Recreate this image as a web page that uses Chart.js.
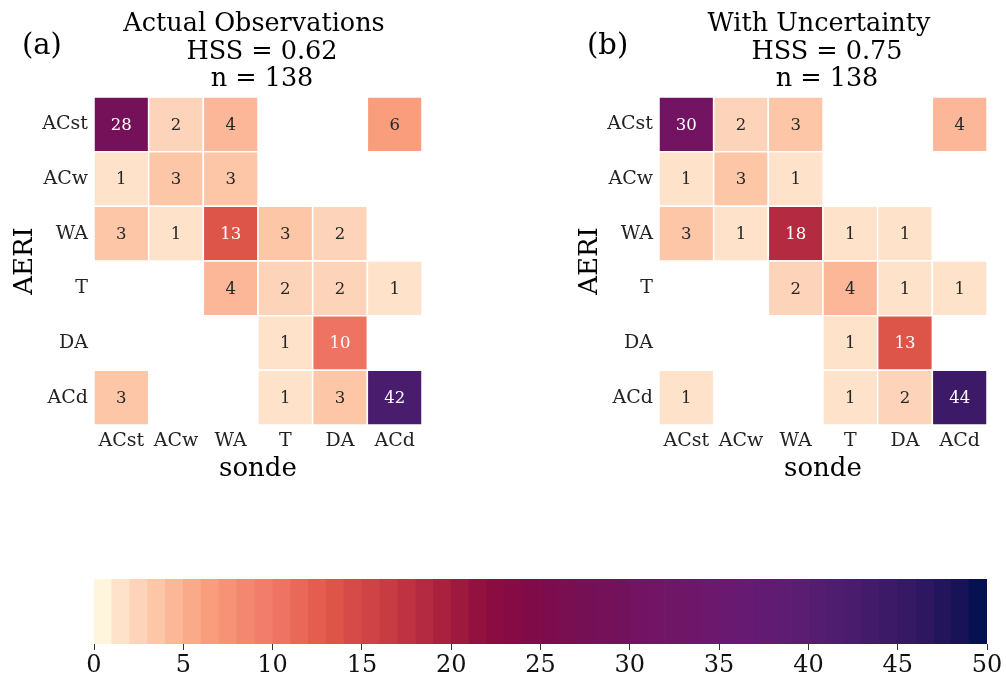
<!DOCTYPE html>
<html>
<head>
<meta charset="utf-8">
<script src="https://cdn.jsdelivr.net/npm/chart.js@4.4.1/dist/chart.umd.min.js"></script>
<style>
  html, body { margin: 0; padding: 0; background: #fff; }
  body { width: 1006px; height: 681px; position: relative; overflow: hidden; }
  .panel { position: absolute; }
</style>
</head>
<body>
<div class="panel" style="left:0;top:0;width:441px;height:500px"><canvas id="chartA"></canvas></div>
<div class="panel" style="left:565px;top:0;width:441px;height:500px"><canvas id="chartB"></canvas></div>
<div class="panel" style="left:0;top:540px;width:1006px;height:141px"><canvas id="chartBar"></canvas></div>
<script>
// Clases de régimen (mismas para AERI y sonde)
const classes = ["ACst", "ACw", "WA", "T", "DA", "ACd"];

// Filas = AERI, columnas = sonde; null = sin casos (celda vacía)
const actualCounts = [
    [28, 2, 4, null, null, 6],
    [1, 3, 3, null, null, null],
    [3, 1, 13, 3, 2, null],
    [null, null, 4, 2, 2, 1],
    [null, null, null, 1, 10, null],
    [3, null, null, 1, 3, 42]
];
const uncertaintyCounts = [
    [30, 2, 3, null, null, 4],
    [1, 3, 1, null, null, null],
    [3, 1, 18, 1, 1, null],
    [null, null, 2, 4, 1, 1],
    [null, null, null, 1, 13, null],
    [1, null, null, 1, 2, 44]
];

const titlesA = ["Actual Observations", "HSS = 0.62", "n = 138"];
const titlesB = ["With Uncertainty", "HSS = 0.75", "n = 138"];
const colorbarTicks = [0, 5, 10, 15, 20, 25, 30, 35, 40, 45, 50];

// Paleta discreta de 50 niveles (0..50)
const palette = [
    "#FFF4DC", "#FEE3CA", "#FDD4B9", "#FCC6A7", "#FBB797", "#FAAA88", "#F99D7D", "#F79277", "#F48770", "#F17D6A",
    "#EE7363", "#EA6858", "#E45D4E", "#DD5449", "#D64B47", "#CF4346", "#C73B43", "#BE3241", "#B42A40", "#A9213F",
    "#9E193E", "#93113E", "#8B0C40", "#860B45", "#800B49", "#7C0C4D", "#790E51", "#761055", "#741159", "#72125D",
    "#721461", "#711564", "#701667", "#6E176A", "#6C186D", "#69196F", "#661A71", "#621B72", "#5E1C72", "#5A1D71",
    "#551D70", "#4F1D6F", "#491C6D", "#431B6B", "#3C1A68", "#351964", "#2D1760", "#23155B", "#171356", "#051150"
];

const FONT = '"DejaVu Serif"';
Chart.defaults.font.family = FONT;

function cellColor(v) {
    return palette[Math.max(0, Math.min(palette.length - 1, Math.floor(v)))];
}

// Texto claro u oscuro según la luminancia de la celda (como seaborn)
function textColorFor(hex) {
    const lin = c => {
        c = c / 255;
        return c <= 0.03928 ? c / 12.92 : Math.pow((c + 0.055) / 1.055, 2.4);
    };
    const r = parseInt(hex.slice(1, 3), 16), g = parseInt(hex.slice(3, 5), 16), b = parseInt(hex.slice(5, 7), 16);
    const lum = 0.2126 * lin(r) + 0.7152 * lin(g) + 0.0722 * lin(b);
    return lum > 0.408 ? "#262626" : "#ffffff";
}

function cellPoints(counts) {
    const pts = [];
    counts.forEach((row, r) => row.forEach((v, c) => {
        if (v !== null) pts.push({ x: classes[c], y: classes[r], v: v });
    }));
    return pts;
}

// Medio ancho de celda a partir de la escala de categorías
function cellHalf(chart) {
    const x = chart.scales.x;
    if (!x) return 0;
    return Math.abs(x.getPixelForValue(1) - x.getPixelForValue(0)) / 2;
}

const cellLabels = {
    id: "cellLabels",
    afterDatasetsDraw(chart) {
        const ctx = chart.ctx;
        const meta = chart.getDatasetMeta(0);
        const data = chart.data.datasets[0].data;
        ctx.save();
        ctx.font = "16.5px " + FONT;
        ctx.textAlign = "center";
        ctx.textBaseline = "middle";
        meta.data.forEach((pt, i) => {
            const v = data[i].v;
            ctx.fillStyle = textColorFor(cellColor(v));
            ctx.fillText(String(v), pt.x, pt.y + 1);
        });
        ctx.restore();
    }
};

const panelText = {
    id: "panelText",
    afterDraw(chart, args, opts) {
        const { left, right, top, bottom } = chart.chartArea;
        const cx = (left + right) / 2, cy = (top + bottom) / 2;
        const ctx = chart.ctx;
        ctx.save();
        ctx.fillStyle = "#000";
        ctx.textBaseline = "alphabetic";

        // título de tres líneas
        ctx.font = "25.5px " + FONT;
        ctx.textAlign = "center";
        const shifts = [-4, 4, 4];
        opts.lines.forEach((line, i) => ctx.fillText(line, cx + shifts[i], 31 + i * 27.5));

        // letra del panel
        ctx.font = "29px " + FONT;
        ctx.textAlign = "left";
        ctx.fillText(opts.letter, 22, 54);

        // etiquetas de ejes
        ctx.font = "26px " + FONT;
        ctx.textAlign = "center";
        ctx.fillText("sonde", cx, 476);
        ctx.translate(32, cy);
        ctx.rotate(-Math.PI / 2);
        ctx.fillText("AERI", 0, 0);
        ctx.restore();
    }
};

function heatmapConfig(counts, lines, letter) {
    return {
        type: "scatter",
        data: {
            datasets: [{
                data: cellPoints(counts),
                pointStyle: "rect",
                pointRadius: ctx => cellHalf(ctx.chart) * Math.SQRT2,
                pointHoverRadius: ctx => cellHalf(ctx.chart) * Math.SQRT2,
                pointBackgroundColor: ctx => ctx.raw ? cellColor(ctx.raw.v) : "transparent",
                pointBorderColor: "#ffffff",
                pointBorderWidth: 1.5,
                clip: false
            }]
        },
        options: {
            responsive: true,
            maintainAspectRatio: false,
            animation: false,
            events: [],
            layout: { padding: { top: 97, right: 19, left: 0, bottom: 0 } },
            plugins: {
                legend: { display: false },
                tooltip: { enabled: false },
                panelText: { lines: lines, letter: letter }
            },
            scales: {
                x: {
                    type: "category",
                    labels: classes,
                    offset: true,
                    grid: { display: false, drawTicks: false },
                    border: { display: false },
                    ticks: { font: { size: 19 }, color: "#222", padding: 5, maxRotation: 0, autoSkip: false },
                    afterFit: s => { s.height = 75; }
                },
                y: {
                    type: "category",
                    labels: classes,
                    offset: true,
                    grid: { display: false, drawTicks: false },
                    border: { display: false },
                    ticks: { font: { size: 19 }, color: "#222", padding: 6, autoSkip: false },
                    afterFit: s => { s.width = 94; }
                }
            }
        },
        plugins: [cellLabels, panelText]
    };
}

new Chart(document.getElementById("chartA"), heatmapConfig(actualCounts, titlesA, "(a)"));
new Chart(document.getElementById("chartB"), heatmapConfig(uncertaintyCounts, titlesB, "(b)"));

// --- Barra de colores ---
new Chart(document.getElementById("chartBar"), {
    type: "bar",
    data: {
        datasets: [{
            data: palette.map((c, i) => ({ x: i + 0.5, y: 1 })),
            backgroundColor: palette,
            categoryPercentage: 1,
            barPercentage: 1,
            borderWidth: 0
        }]
    },
    options: {
        responsive: true,
        maintainAspectRatio: false,
        animation: false,
        events: [],
        layout: { padding: { top: 39, left: 94, right: 19, bottom: 0 } },
        plugins: { legend: { display: false }, tooltip: { enabled: false } },
        scales: {
            x: {
                type: "linear",
                min: 0,
                max: 50,
                offset: false,
                afterBuildTicks: s => { s.ticks = colorbarTicks.map(v => ({ value: v })); },
                grid: { display: true, offset: false, drawOnChartArea: false, drawTicks: true, tickLength: 6, color: "#333", lineWidth: 1 },
                border: { display: false },
                ticks: { font: { size: 24 }, color: "#111", padding: 1, maxRotation: 0, autoSkip: false },
                afterFit: s => { s.height = 37; }
            },
            y: { display: false, min: 0, max: 1 }
        }
    }
});
</script>
</body>
</html>
